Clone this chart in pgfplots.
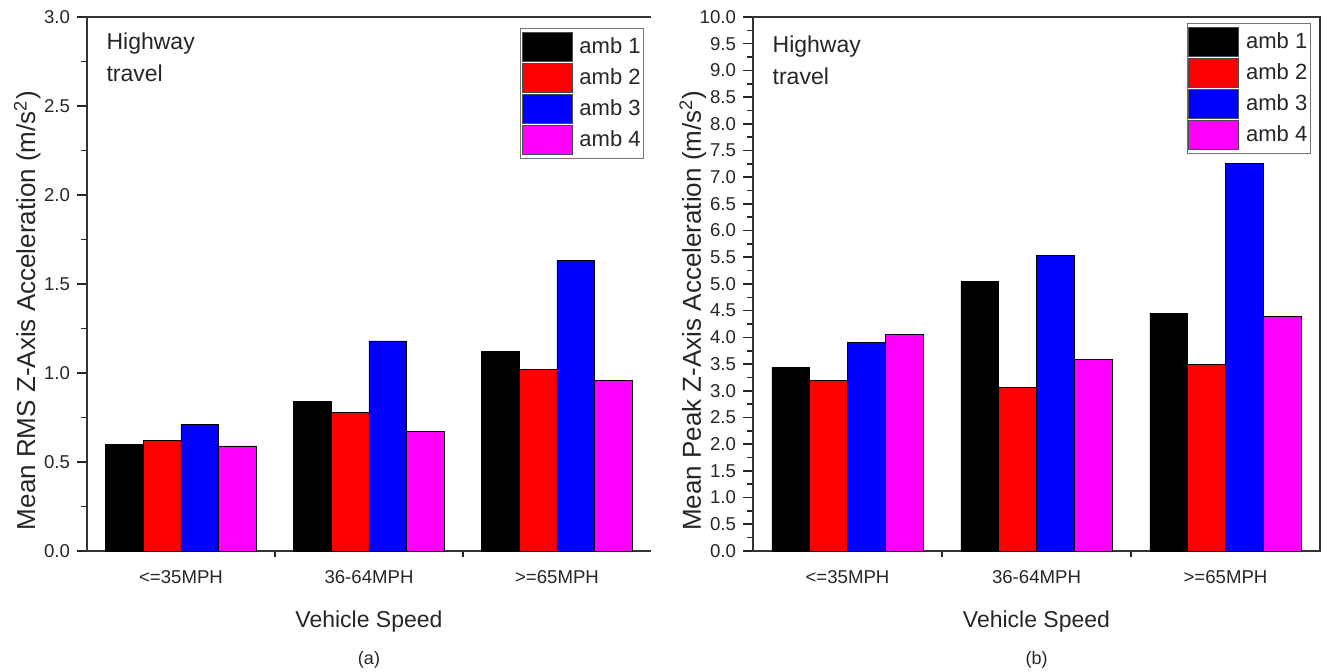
\documentclass[border=0pt]{standalone}
\usepackage{fontspec}
\setmainfont{Liberation Sans}
\usepackage{pgfplots}
\pgfplotsset{compat=1.18}
\definecolor{txt}{gray}{0.15}
\definecolor{amb1}{RGB}{0,0,0}
\definecolor{amb2}{RGB}{255,0,0}
\definecolor{amb3}{RGB}{0,0,255}
\definecolor{amb4}{RGB}{255,0,255}

\pgfplotsset{
  mybars/.style={
    scale only axis, height=267pt, clip=false,
    xmin=0.5, xmax=3.5, ymin=0,
    ybar, bar width=0.2,
    xtick={1,2,3}, xticklabels={{<=35MPH},{36-64MPH},{>=65MPH}},
    minor xtick={1.5,2.5},
    xtick pos=bottom, ytick pos=left,
    minor y tick num=1,
    major x tick style={draw=none},
    tick align=outside,
    major tick length=5pt, minor tick length=2.8pt,
    every tick/.style={line width=0.8pt, black!85},
    axis line style={line width=1pt, black!80},
    tick label style={font=\fontsize{9.3}{11}\selectfont, text=txt},
    /pgf/number format/assume math mode=true,
    yticklabel style={/pgf/number format/fixed, /pgf/number format/fixed zerofill, /pgf/number format/precision=1},
    xticklabel style={yshift=-1pt},
    xlabel={Vehicle Speed},
    every axis x label/.style={at={(axis description cs:0.5,-0.133)}, anchor=center, font=\fontsize{11.5}{13}\selectfont, text=txt},
    every axis y label/.style={at={(axis description cs:-0.106,0.45)}, rotate=90, anchor=center, font=\fontsize{13}{15}\selectfont, text=txt},
    legend image code/.code={\draw[#1, draw=black!70, line width=0.4pt] (0pt,-7pt) rectangle (25pt,7.25pt);},
    legend style={anchor=north east, draw=black!55, line width=0.6pt, inner xsep=0.5pt, inner ysep=1.5pt,
      font=\fontsize{11}{13}\selectfont, text=txt, row sep=0pt, column sep=2.5pt,
      nodes={inner sep=1pt, minimum height=15.5pt}},
    legend cell align=left,
    legend entries={amb 1\hspace{4pt}, amb 2\hspace{4pt}, amb 3\hspace{4pt}, amb 4\hspace{4pt}},
  }
}

\begin{document}
\begin{tikzpicture}
\useasboundingbox (-43.5pt,-60.5pt) rectangle (620.5pt,275.5pt);

% (a)
\begin{axis}[mybars, width=282pt, at={(0pt,0pt)}, anchor=south west,
  ymax=3, ytick={0,0.5,...,3},
  axis x line*=box, axis y line*=left,
  ylabel={Mean RMS Z-Axis Acceleration (m/s\textsuperscript{2})},
  legend style={at={(axis description cs:0.988,0.979)}}]
\addplot[fill=amb1, draw=black, line width=0.4pt, bar shift=-0.3] coordinates {(1,0.60) (2,0.84) (3,1.12)};
\addplot[fill=amb2, draw=black, line width=0.4pt, bar shift=-0.1] coordinates {(1,0.62) (2,0.78) (3,1.02)};
\addplot[fill=amb3, draw=black, line width=0.4pt, bar shift=0.1] coordinates {(1,0.71) (2,1.18) (3,1.63)};
\addplot[fill=amb4, draw=black, line width=0.4pt, bar shift=0.3] coordinates {(1,0.59) (2,0.67) (3,0.96)};
\node[anchor=north west, align=left, font=\fontsize{11.5}{16}\selectfont, text=txt, inner sep=0pt] at (axis description cs:0.034,0.972) {Highway\\travel};
\node[font=\fontsize{9}{11}\selectfont, text=txt] at (axis description cs:0.5,-0.204) {(a)};
\end{axis}

% (b)
\begin{axis}[mybars, width=283.5pt, at={(333pt,0pt)}, anchor=south west,
  ymax=10, ytick={0,0.5,...,10},
  ylabel={Mean Peak Z-Axis Acceleration (m/s\textsuperscript{2})},
  legend style={at={(axis description cs:0.984,0.989)}}]
\addplot[fill=amb1, draw=black, line width=0.4pt, bar shift=-0.3] coordinates {(1,3.44) (2,5.05) (3,4.45)};
\addplot[fill=amb2, draw=black, line width=0.4pt, bar shift=-0.1] coordinates {(1,3.19) (2,3.07) (3,3.50)};
\addplot[fill=amb3, draw=black, line width=0.4pt, bar shift=0.1] coordinates {(1,3.90) (2,5.53) (3,7.26)};
\addplot[fill=amb4, draw=black, line width=0.4pt, bar shift=0.3] coordinates {(1,4.06) (2,3.58) (3,4.40)};
\node[anchor=north west, align=left, font=\fontsize{11.5}{16}\selectfont, text=txt, inner sep=0pt] at (axis description cs:0.034,0.966) {Highway\\travel};
\node[font=\fontsize{9}{11}\selectfont, text=txt] at (axis description cs:0.5,-0.204) {(b)};
\end{axis}
\end{tikzpicture}
\end{document}
